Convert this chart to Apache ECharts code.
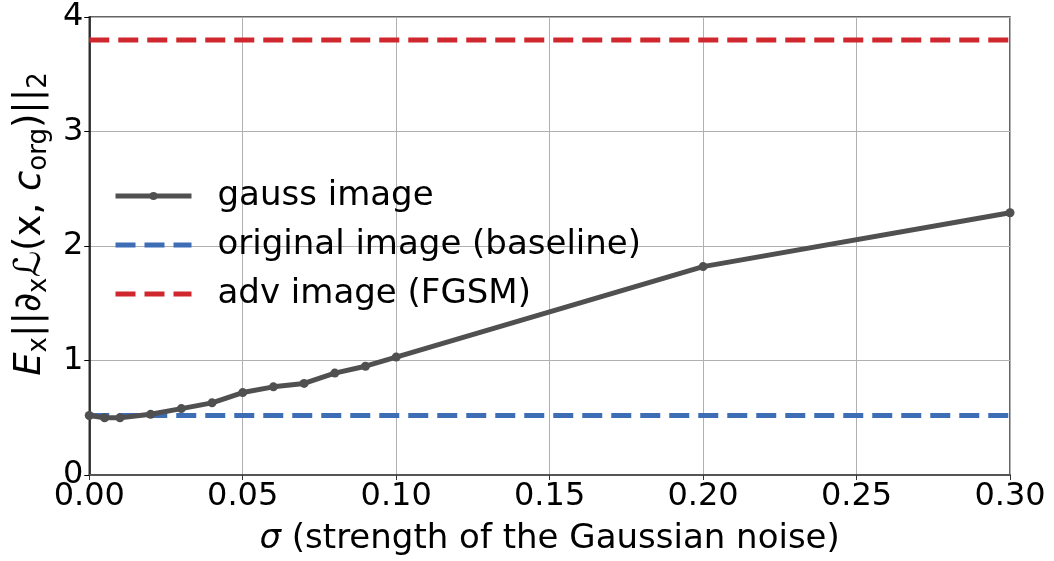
<!DOCTYPE html>
<html>
<head>
<meta charset="utf-8">
<script src="https://cdn.jsdelivr.net/npm/echarts@6/dist/echarts.min.js"></script>
<style>
html,body{margin:0;padding:0;background:#fff;}
#chart{width:1054px;height:561px;}
</style>
</head>
<body>
<div id="chart"></div>
<script>
const sigma = [0, 0.005, 0.01, 0.02, 0.03, 0.04, 0.05, 0.06, 0.07, 0.08, 0.09, 0.10, 0.20, 0.30];
const gaussValues = [0.52, 0.50, 0.50, 0.53, 0.58, 0.63, 0.72, 0.77, 0.80, 0.89, 0.95, 1.03, 1.82, 2.29];
const baselineValue = 0.52;
const advValue = 3.80;
const xRange = [0, 0.30];
const seriesNames = ['gauss image', 'original image (baseline)', 'adv image (FGSM)'];

const font = 'DejaVu Sans';
const chart = echarts.init(document.getElementById('chart'), null, {renderer: 'canvas'});

const gaussData = sigma.map((s, i) => [s, gaussValues[i]]);
const baselineData = xRange.map(x => [x, baselineValue]);
const advData = xRange.map(x => [x, advValue]);
const hidden = {color: 'rgba(0,0,0,0)', borderColor: 'rgba(0,0,0,0)', borderWidth: 0};

chart.setOption({
  animation: false,
  backgroundColor: '#fff',
  grid: {left: 88, right: 44, top: 17, bottom: 86, show: true, borderColor: '#333', borderWidth: 1.5, backgroundColor: 'transparent'},
  legend: {
    orient: 'vertical', left: 108, top: 174, itemWidth: 76, itemHeight: 10, itemGap: 15,
    lineStyle: {width: 5},
    data: [
      {name: seriesNames[0]},
      {name: seriesNames[1], itemStyle: hidden},
      {name: seriesNames[2], itemStyle: hidden}
    ],
    textStyle: {fontFamily: font, fontSize: 34, lineHeight: 34, color: '#000', padding: [0, 0, 0, 21]}
  },
  xAxis: {
    type: 'value', min: 0, max: 0.30, interval: 0.05,
    axisLine: {show: true, lineStyle: {color: '#555', width: 2}},
    axisTick: {show: true, length: 5, lineStyle: {color: '#333'}},
    axisLabel: {fontFamily: font, fontSize: 32, color: '#000', margin: 6, formatter: v => v.toFixed(2)},
    splitLine: {show: true, lineStyle: {color: '#b0b0b0', width: 1}},
    name: '{i|σ} (strength of the Gaussian noise)',
    nameLocation: 'middle', nameGap: 47,
    nameTextStyle: {fontFamily: font, fontSize: 34, color: '#000', rich: {i: {fontFamily: font, fontStyle: 'italic', fontSize: 34, color: '#000'}}}
  },
  yAxis: {
    type: 'value', min: 0, max: 4, interval: 1,
    axisLine: {show: true, lineStyle: {color: '#000', width: 1.5}},
    axisTick: {show: true, length: 5, lineStyle: {color: '#000'}},
    axisLabel: {fontFamily: font, fontSize: 32, color: '#000', margin: 6},
    splitLine: {show: true, lineStyle: {color: '#b0b0b0', width: 1}},
    name: '{i|E}{s|x}||∂{s|x}{i|ℒ}(x, {i|c}{s|org})||{s|2}',
    nameLocation: 'middle', nameRotate: 90, nameGap: 36,
    nameTextStyle: {
      fontFamily: font, fontSize: 37, color: '#000', lineHeight: 44, padding: [0, 0, 0, 44],
      rich: {
        i: {fontFamily: font, fontStyle: 'italic', fontSize: 37, color: '#000', lineHeight: 44},
        s: {fontFamily: font, fontSize: 26, color: '#000', lineHeight: 44, verticalAlign: 'bottom', padding: [15, 0, 0, 0]}
      }
    }
  },
  series: [
    {
      name: seriesNames[0], type: 'line', data: gaussData,
      symbol: 'circle', symbolSize: 9, showSymbol: true,
      lineStyle: {color: '#505050', width: 5},
      itemStyle: {color: '#505050'},
      z: 5
    },
    {
      name: seriesNames[1], type: 'line', data: baselineData, symbol: 'none',
      lineStyle: {color: '#3d6db5', width: 5, type: [20, 9]},
      itemStyle: {color: '#3d6db5'},
      z: 4
    },
    {
      name: seriesNames[2], type: 'line', data: advData, symbol: 'none',
      lineStyle: {color: '#d0262d', width: 5, type: [20, 9]},
      itemStyle: {color: '#d0262d'},
      z: 4
    }
  ]
});
</script>
</body>
</html>
